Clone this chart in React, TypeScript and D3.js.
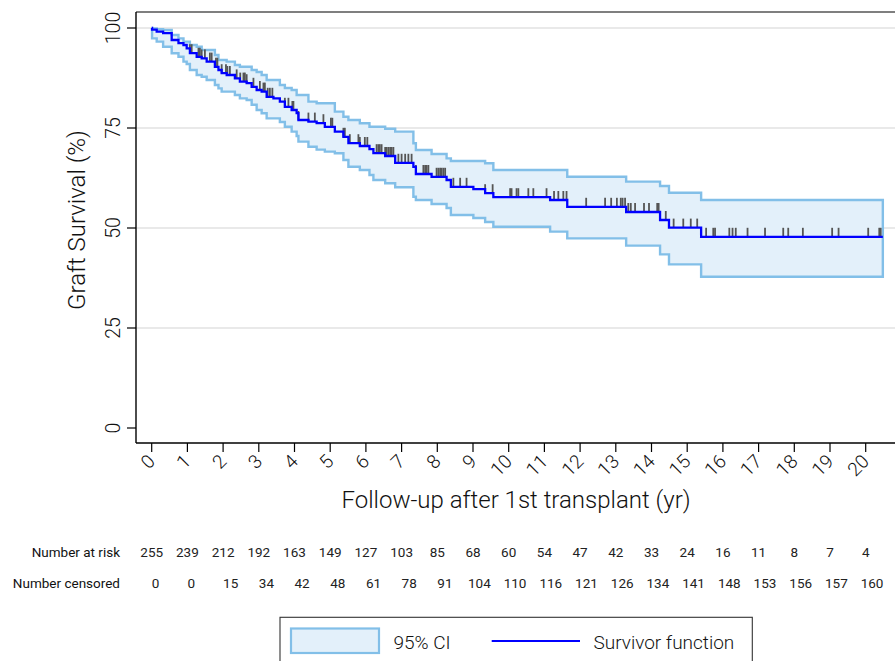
import React from "react";
import * as d3 from "d3";

const W = 895;
const H = 661;

// Kaplan–Meier estimate of graft survival: step times (years), estimate and 95% CI (%)
const eventTimes = [0, 0.01, 0.14, 0.32, 0.56, 0.75, 0.89, 0.98, 1.07, 1.26, 1.4, 1.54, 1.77, 1.87, 1.96, 2.1, 2.33, 2.47, 2.66, 2.8, 2.94, 3.08, 3.22, 3.41, 3.59, 3.73, 3.92, 4.06, 4.11, 4.39, 4.62, 4.85, 5.13, 5.37, 5.51, 5.83, 6.1, 6.21, 6.54, 6.82, 7.33, 7.4, 7.84, 8.26, 8.38, 9.01, 9.34, 9.57, 11.16, 11.64, 13.29, 14.24, 14.49, 15.39];
const survival = [100, 99.6, 99.1, 98.7, 97.0, 96.2, 95.75, 94.9, 93.7, 92.8, 92.4, 91.6, 90.3, 89.5, 88.7, 88.25, 87.4, 86.6, 86.2, 85.3, 84.5, 84.1, 82.8, 82.4, 81.6, 80.3, 79.5, 78.7, 77.0, 76.6, 76.2, 75.3, 74.1, 72.8, 71.2, 70.5, 69.7, 68.7, 68.0, 66.3, 65.3, 63.5, 62.8, 62.0, 60.3, 59.7, 58.7, 57.7, 57.0, 55.3, 54.0, 52.0, 50.1, 47.8];
const upperCI = [100, 99.9, 99.7, 99.5, 98.25, 97.4, 96.6, 96.6, 95.75, 95.3, 94.5, 94.5, 93.25, 92.0, 92.0, 91.6, 90.75, 90.3, 90.3, 89.5, 89.0, 88.25, 87.0, 87.0, 85.75, 85.0, 84.5, 83.25, 83.25, 81.6, 81.2, 81.2, 79.1, 77.8, 77.0, 76.2, 75.3, 75.3, 74.8, 74.1, 71.2, 69.5, 68.5, 67.4, 66.75, 66.75, 66.2, 64.5, 64.5, 62.8, 61.6, 60.5, 58.8, 57.0];
const lowerCI = [100, 97.4, 96.6, 95.3, 93.7, 92.8, 91.6, 91.0, 89.5, 88.25, 87.8, 87.0, 85.75, 84.9, 84.1, 84.1, 83.25, 82.4, 82.0, 80.8, 79.5, 78.7, 77.4, 77.4, 76.5, 75.3, 74.1, 73.0, 71.6, 70.3, 69.6, 69.1, 68.7, 67.0, 65.3, 64.5, 63.25, 62.0, 61.2, 60.2, 57.8, 57.0, 56.0, 55.0, 53.25, 52.5, 51.5, 50.3, 49.1, 47.4, 45.6, 43.4, 40.9, 37.8];
const followUpEnd = 20.48;

// Censored observations (years)
const censorTimes = [1.07, 1.12, 1.31, 1.35, 1.4, 1.49, 1.63, 1.68, 1.8, 1.84, 1.96, 2.08, 2.12, 2.19, 2.38, 2.48, 2.57, 2.61, 2.66, 2.85, 3.03, 3.13, 3.17, 3.25, 3.31, 3.38, 3.73, 3.83, 3.94, 3.97, 4.11, 4.39, 4.57, 4.81, 5.02, 5.06, 5.37, 5.41, 5.55, 5.79, 5.83, 5.97, 6.04, 6.3, 6.35, 6.39, 6.44, 6.54, 6.58, 6.63, 6.68, 6.72, 6.77, 6.91, 7.0, 7.1, 7.19, 7.28, 7.4, 7.61, 7.66, 7.7, 7.75, 7.98, 8.03, 8.08, 8.12, 8.17, 8.22, 8.45, 8.64, 8.82, 9.34, 9.55, 10.04, 10.08, 10.22, 10.27, 10.55, 10.69, 11.06, 11.27, 11.39, 11.53, 11.62, 12.17, 12.7, 12.87, 13.03, 13.14, 13.19, 13.26, 13.35, 13.42, 13.54, 13.79, 13.93, 14.16, 14.2, 14.4, 14.62, 14.89, 15.1, 15.28, 15.53, 15.73, 15.78, 16.18, 16.27, 16.36, 16.69, 17.18, 17.69, 17.83, 18.24, 19.06, 19.24, 20.07, 20.38, 20.42];

// Axis ticks
const xTicks = d3.range(0, 21);
const yTicks = [0, 25, 50, 75, 100];
const yGrid = [25, 50, 75, 100];

// Risk table
const numberAtRisk = [255, 239, 212, 192, 163, 149, 127, 103, 85, 68, 60, 54, 47, 42, 33, 24, 16, 11, 8, 7, 4];
const numberCensored = [0, 0, 15, 34, 42, 48, 61, 78, 91, 104, 110, 116, 121, 126, 134, 141, 148, 153, 156, 157, 160];

const FONT = "Roboto, 'Liberation Sans', Arial, sans-serif";
const CI_FILL = "#e3f0fa";
const CI_LINE = "#82bfe8";
const KM_LINE = "#0000ff";

export default function App() {
  const plot = { left: 136, right: 896, top: 12, bottom: 443 };
  const x = d3.scaleLinear().domain([0, 20]).range([151.7, 865.7]);
  const y = d3.scaleLinear().domain([0, 100]).range([428, 28]);

  const rows = eventTimes.map((t, i) => ({ t, s: survival[i], hi: upperCI[i], lo: lowerCI[i] }));
  const last = rows[rows.length - 1];
  const stepRows = [...rows, { ...last, t: followUpEnd }];

  const band = d3
    .area<any>()
    .curve(d3.curveStepAfter)
    .x((d) => x(d.t))
    .y0((d) => y(d.lo))
    .y1((d) => y(d.hi))(stepRows);

  const kmLine = d3
    .line<any>()
    .curve(d3.curveStepAfter)
    .x((d) => x(d.t))
    .y((d) => y(d.s))(stepRows);

  const bisect = d3.bisector((d: any) => d.t).right;
  const survAt = (t: number) => rows[Math.max(0, bisect(rows, t) - 1)].s;

  return (
    <svg
      width={W}
      height={H}
      viewBox={`0 0 ${W} ${H}`}
      style={{ position: "absolute", left: 0, top: 0, background: "#fff" }}
      fontFamily={FONT}
    >
      <rect x={0} y={0} width={W} height={H} fill="#fff" />

      {/* grid */}
      {yGrid.map((v) => (
        <line key={`g${v}`} x1={plot.left} x2={plot.right} y1={y(v)} y2={y(v)} stroke="#e2e2e2" strokeWidth={1.6} />
      ))}

      {/* 95% CI band */}
      <path d={band ?? ""} fill={CI_FILL} stroke={CI_LINE} strokeWidth={2.4} strokeLinejoin="miter" />

      {/* censoring marks */}
      {censorTimes.map((t, i) => {
        const yy = y(survAt(t));
        return <line key={`c${i}`} x1={x(t)} x2={x(t)} y1={yy - 9} y2={yy} stroke="#555" strokeWidth={1.8} />;
      })}

      {/* survivor function */}
      <path d={kmLine ?? ""} fill="none" stroke={KM_LINE} strokeWidth={2.3} />

      {/* plot frame */}
      <line x1={plot.left} x2={plot.right} y1={plot.top} y2={plot.top} stroke="#000" strokeWidth={1.2} />
      <line x1={plot.left} x2={plot.left} y1={plot.top} y2={plot.bottom} stroke="#000" strokeWidth={1.4} />
      <line x1={plot.left} x2={plot.right} y1={plot.bottom} y2={plot.bottom} stroke="#000" strokeWidth={1.4} />
      <line x1={plot.right} x2={plot.right} y1={plot.top} y2={plot.bottom} stroke="#000" strokeWidth={1.2} />

      {/* y axis */}
      {yTicks.map((v) => (
        <g key={`y${v}`}>
          <line x1={plot.left - 9} x2={plot.left} y1={y(v)} y2={y(v)} stroke="#000" strokeWidth={1.2} />
          <text
            transform={`translate(120,${y(v)}) rotate(-90)`}
            textAnchor="middle"
            fontSize={19.5}
            fontWeight={300}
            fill="#111"
          >
            {v}
          </text>
        </g>
      ))}
      <text transform="translate(85,220) rotate(-90)" textAnchor="middle" fontSize={24} fontWeight={300} fill="#111">
        Graft Survival (%)
      </text>

      {/* x axis */}
      {xTicks.map((t) => (
        <g key={`x${t}`}>
          <line x1={x(t)} x2={x(t)} y1={plot.bottom} y2={plot.bottom + 9} stroke="#000" strokeWidth={1.2} />
          <text
            transform={`translate(${x(t)},458) rotate(-45)`}
            textAnchor="end"
            dominantBaseline="central"
            fontSize={19}
            fontWeight={300}
            fill="#111"
          >
            {t}
          </text>
        </g>
      ))}
      <text x={516} y={508} textAnchor="middle" fontSize={24} fontWeight={300} fill="#111">
        Follow-up after 1st transplant (yr)
      </text>

      {/* risk table */}
      <text x={120} y={557} textAnchor="end" fontSize={13.5} fill="#111">
        Number at risk
      </text>
      <text x={120} y={588} textAnchor="end" fontSize={13.5} fill="#111">
        Number censored
      </text>
      {numberAtRisk.map((n, i) => (
        <text key={`r${i}`} x={x(xTicks[i])} y={557} textAnchor="middle" fontSize={13.5} fill="#222">
          {n}
        </text>
      ))}
      {numberCensored.map((n, i) => (
        <text
          key={`n${i}`}
          x={x(xTicks[i]) + (n >= 100 ? -5 : 0)}
          y={588}
          textAnchor="start"
          fontSize={13.5}
          fill="#222"
        >
          {n}
        </text>
      ))}

      {/* legend */}
      <rect x={280} y={617.3} width={472.3} height={60} fill="#fff" stroke="#333" strokeWidth={1.1} />
      <rect x={291} y={628.5} width={88} height={24.5} fill={CI_FILL} stroke={CI_LINE} strokeWidth={2.2} />
      <text x={393.5} y={648.5} fontSize={19} fontWeight={300} fill="#111">
        95% CI
      </text>
      <line x1={491.7} x2={580} y1={641} y2={641} stroke={KM_LINE} strokeWidth={2} />
      <text x={593.5} y={648.5} fontSize={19} fontWeight={300} fill="#111">
        Survivor function
      </text>
    </svg>
  );
}
